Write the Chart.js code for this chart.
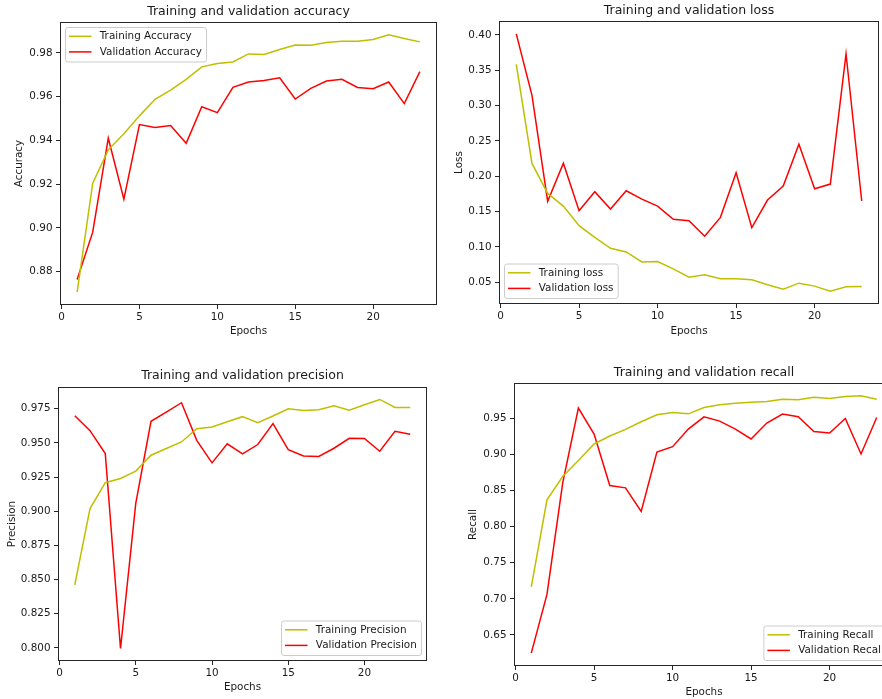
<!DOCTYPE html>
<html>
<head>
<meta charset="utf-8">
<script src="https://cdn.jsdelivr.net/npm/chart.js@4/dist/chart.umd.min.js"></script>
<style>
  html, body { margin: 0; padding: 0; background: #fff; overflow: hidden; width: 882px; height: 699px; }
  canvas { position: absolute; }
</style>
</head>
<body>
<canvas id="c1" width="441" height="340" style="left:0;top:0;width:441px;height:340px"></canvas>
<canvas id="c2" width="441" height="340" style="left:441px;top:0;width:441px;height:340px"></canvas>
<canvas id="c3" width="441" height="359" style="left:0;top:340px;width:441px;height:359px"></canvas>
<canvas id="c4" width="460" height="359" style="left:441px;top:340px;width:460px;height:359px"></canvas>
<script>
// ---- data ----
const epochs = [1,2,3,4,5,6,7,8,9,10,11,12,13,14,15,16,17,18,19,20,21,22,23];

const trainAcc = [0.8707,0.9205,0.9357,0.9430,0.9512,0.9588,0.9630,0.9679,0.9736,0.9751,0.9758,0.9795,0.9792,0.9815,0.9836,0.9835,0.9847,0.9853,0.9853,0.9861,0.9882,0.9865,0.9850];
const valAcc   = [0.8765,0.8981,0.9410,0.9132,0.9472,0.9459,0.9468,0.9387,0.9554,0.9527,0.9642,0.9667,0.9674,0.9686,0.9589,0.9638,0.9671,0.9679,0.9642,0.9636,0.9667,0.9568,0.9714];

const trainLoss = [0.3581,0.2180,0.1756,0.1577,0.1300,0.1135,0.0980,0.0928,0.0787,0.0792,0.0688,0.0571,0.0604,0.0547,0.0547,0.0533,0.0463,0.0401,0.0486,0.0444,0.0373,0.0434,0.0439];
const valLoss   = [0.4014,0.3144,0.1643,0.2184,0.1512,0.1780,0.1535,0.1794,0.1676,0.1577,0.1389,0.1370,0.1150,0.1417,0.2048,0.1272,0.1662,0.1860,0.2452,0.1822,0.1888,0.3732,0.1648];

const trainPrec = [0.8461,0.9019,0.9209,0.9240,0.9294,0.9410,0.9459,0.9507,0.9604,0.9617,0.9655,0.9692,0.9648,0.9697,0.9750,0.9738,0.9743,0.9772,0.9740,0.9779,0.9818,0.9760,0.9760];
const valPrec   = [0.9699,0.9590,0.9422,0.7995,0.9058,0.9658,0.9726,0.9794,0.9519,0.9354,0.9493,0.9420,0.9488,0.9641,0.9451,0.9405,0.9401,0.9461,0.9534,0.9532,0.9439,0.9585,0.9563];

const trainRec = [0.7167,0.8373,0.8695,0.8916,0.9146,0.9256,0.9348,0.9454,0.9551,0.9583,0.9564,0.9652,0.9689,0.9712,0.9725,0.9735,0.9767,0.9758,0.9794,0.9776,0.9804,0.9813,0.9767];
const valRec   = [0.6247,0.7061,0.8603,0.9643,0.9284,0.8571,0.8538,0.8212,0.9035,0.9109,0.9353,0.9523,0.9463,0.9353,0.9215,0.9436,0.9560,0.9523,0.9320,0.9297,0.9500,0.9008,0.9514];

const xTicks = [0,5,10,15,20];
const accTicks  = [0.88,0.90,0.92,0.94,0.96,0.98];
const lossTicks = [0.05,0.10,0.15,0.20,0.25,0.30,0.35,0.40];
const precTicks = [0.800,0.825,0.850,0.875,0.900,0.925,0.950,0.975];
const recTicks  = [0.65,0.70,0.75,0.80,0.85,0.90,0.95];

const titles = ['Training and validation accuracy','Training and validation loss','Training and validation precision','Training and validation recall'];
const yLabels = ['Accuracy','Loss','Precision','Recall'];
const legendLabels = [
  ['Training Accuracy','Validation Accuracy'],
  ['Training loss','Validation loss'],
  ['Training Precision','Validation Precision'],
  ['Training Recall','Validation Recall']
];

// ---- styling ----
const FONT = '"DejaVu Sans", "Liberation Sans", sans-serif';
const TXT = '#1a1a1a';
const TRAIN_C = '#bfbf00';
const VAL_C = '#ff0000';
Chart.defaults.font.family = FONT;
Chart.defaults.color = TXT;

const framePlugin = {
  id: 'frameLegend',
  afterDatasetsDraw(chart, args, opts) {
    const ctx = chart.ctx, a = chart.chartArea;
    ctx.save();
    ctx.strokeStyle = '#262626';
    ctx.lineWidth = 1;
    ctx.strokeRect(Math.round(a.left) + 0.5, Math.round(a.top) + 0.5,
                   Math.round(a.right - a.left) - 1, Math.round(a.bottom - a.top) - 1);
    // legend (matplotlib style)
    ctx.font = '10.4px ' + FONT;
    const items = chart.data.datasets.map(d => ({label: d.label, color: d.borderColor}));
    const tw = Math.max(...items.map(i => ctx.measureText(i.label).width));
    const w = 3.5 + 22.5 + 8.3 + tw + 4.7, h = 34.5;
    const corner = opts.corner;
    const x = corner.indexOf('left') >= 0 ? a.left + 5.5 : a.right - 5.5 - w;
    const y = corner.indexOf('upper') >= 0 ? a.top + 5.5 : a.bottom - 5.5 - h;
    ctx.beginPath();
    if (ctx.roundRect) ctx.roundRect(x, y, w, h, 2.5); else ctx.rect(x, y, w, h);
    ctx.fillStyle = 'rgba(255,255,255,0.8)';
    ctx.fill();
    ctx.strokeStyle = '#cccccc';
    ctx.lineWidth = 1;
    ctx.stroke();
    items.forEach((it, i) => {
      const cy = y + 8.8 + i * 15.6;
      ctx.beginPath();
      ctx.moveTo(x + 3.5, cy);
      ctx.lineTo(x + 26, cy);
      ctx.strokeStyle = it.color;
      ctx.lineWidth = 1.5;
      ctx.stroke();
      ctx.fillStyle = TXT;
      ctx.textBaseline = 'middle';
      ctx.textAlign = 'left';
      ctx.fillText(it.label, x + 34.3, cy);
    });
    ctx.restore();
  }
};

function makeChart(id, idx, train, val, yTicks, decimals, geo) {
  const all = train.concat(val);
  const lo = Math.min(...all), hi = Math.max(...all), r = hi - lo;
  const xr = epochs[epochs.length - 1] - epochs[0];
  return new Chart(document.getElementById(id), {
    type: 'line',
    data: {
      datasets: [
        { label: legendLabels[idx][0], data: epochs.map((e, i) => ({x: e, y: train[i]})),
          borderColor: TRAIN_C, backgroundColor: TRAIN_C, borderWidth: 1.5, pointRadius: 0, tension: 0 },
        { label: legendLabels[idx][1], data: epochs.map((e, i) => ({x: e, y: val[i]})),
          borderColor: VAL_C, backgroundColor: VAL_C, borderWidth: 1.5, pointRadius: 0, tension: 0 }
      ]
    },
    options: {
      responsive: false,
      animation: false,
      devicePixelRatio: 1,
      events: [],
      layout: { padding: { left: 0, right: geo.padRight, top: 0, bottom: 0 } },
      plugins: {
        legend: { display: false },
        tooltip: { enabled: false },
        title: {
          display: true, text: titles[idx], fullSize: false, color: TXT,
          font: { size: 12.5, weight: 'normal', lineHeight: 1.2 },
          padding: { top: geo.tTop, bottom: geo.tBot }
        },
        frameLegend: { corner: geo.corner }
      },
      scales: {
        x: {
          type: 'linear',
          min: epochs[0] - 0.05 * xr, max: epochs[epochs.length - 1] + 0.05 * xr,
          afterBuildTicks: s => { s.ticks = xTicks.map(v => ({value: v})); },
          afterFit: s => { s.height = geo.xH; },
          grid: { display: true, drawOnChartArea: false, drawTicks: true, tickLength: 4, tickColor: '#262626', tickWidth: 1 },
          border: { display: false },
          ticks: { font: { size: 10.4 }, color: TXT, padding: 2, maxRotation: 0, autoSkip: false,
                   callback: v => String(v) },
          title: { display: true, text: 'Epochs', color: TXT, font: { size: 10.4, lineHeight: 1.2 },
                   padding: { top: 0, bottom: geo.xlPad } }
        },
        y: {
          type: 'linear',
          min: lo - 0.05 * r, max: hi + 0.05 * r,
          afterBuildTicks: s => { s.ticks = yTicks.map(v => ({value: v})); },
          afterFit: s => { s.width = geo.yW; },
          grid: { display: true, drawOnChartArea: false, drawTicks: true, tickLength: 4, tickColor: '#262626', tickWidth: 1 },
          border: { display: false },
          ticks: { font: { size: 10.4 }, color: TXT, padding: 3.5, autoSkip: false,
                   callback: v => Number(v).toFixed(decimals) },
          title: { display: true, text: yLabels[idx], color: TXT, font: { size: 10.4, lineHeight: 1.2 },
                   padding: { top: geo.ylPad, bottom: 0 } }
        }
      }
    },
    plugins: [framePlugin]
  });
}

makeChart('c1', 0, trainAcc, valAcc, accTicks, 2,
  { padRight: 4, xH: 35, yW: 60, tTop: 4.2, tBot: 2.8, xlPad: 2.1, ylPad: 13.1, corner: 'upper left' });
makeChart('c2', 1, trainLoss, valLoss, lossTicks, 2,
  { padRight: 3, xH: 36, yW: 58, tTop: 3.2, tBot: 2.8, xlPad: 2.8, ylPad: 12.1, corner: 'lower left' });
makeChart('c3', 2, trainPrec, valPrec, precTicks, 3,
  { padRight: 14, xH: 38, yW: 58, tTop: 28.5, tBot: 3.5, xlPad: 5.5, ylPad: 6.5, corner: 'lower right' });
makeChart('c4', 3, trainRec, valRec, recTicks, 2,
  { padRight: 7, xH: 33, yW: 73, tTop: 24.8, tBot: 3.2, xlPad: 0.1, ylPad: 26.5, corner: 'lower right' });
</script>
</body>
</html>
